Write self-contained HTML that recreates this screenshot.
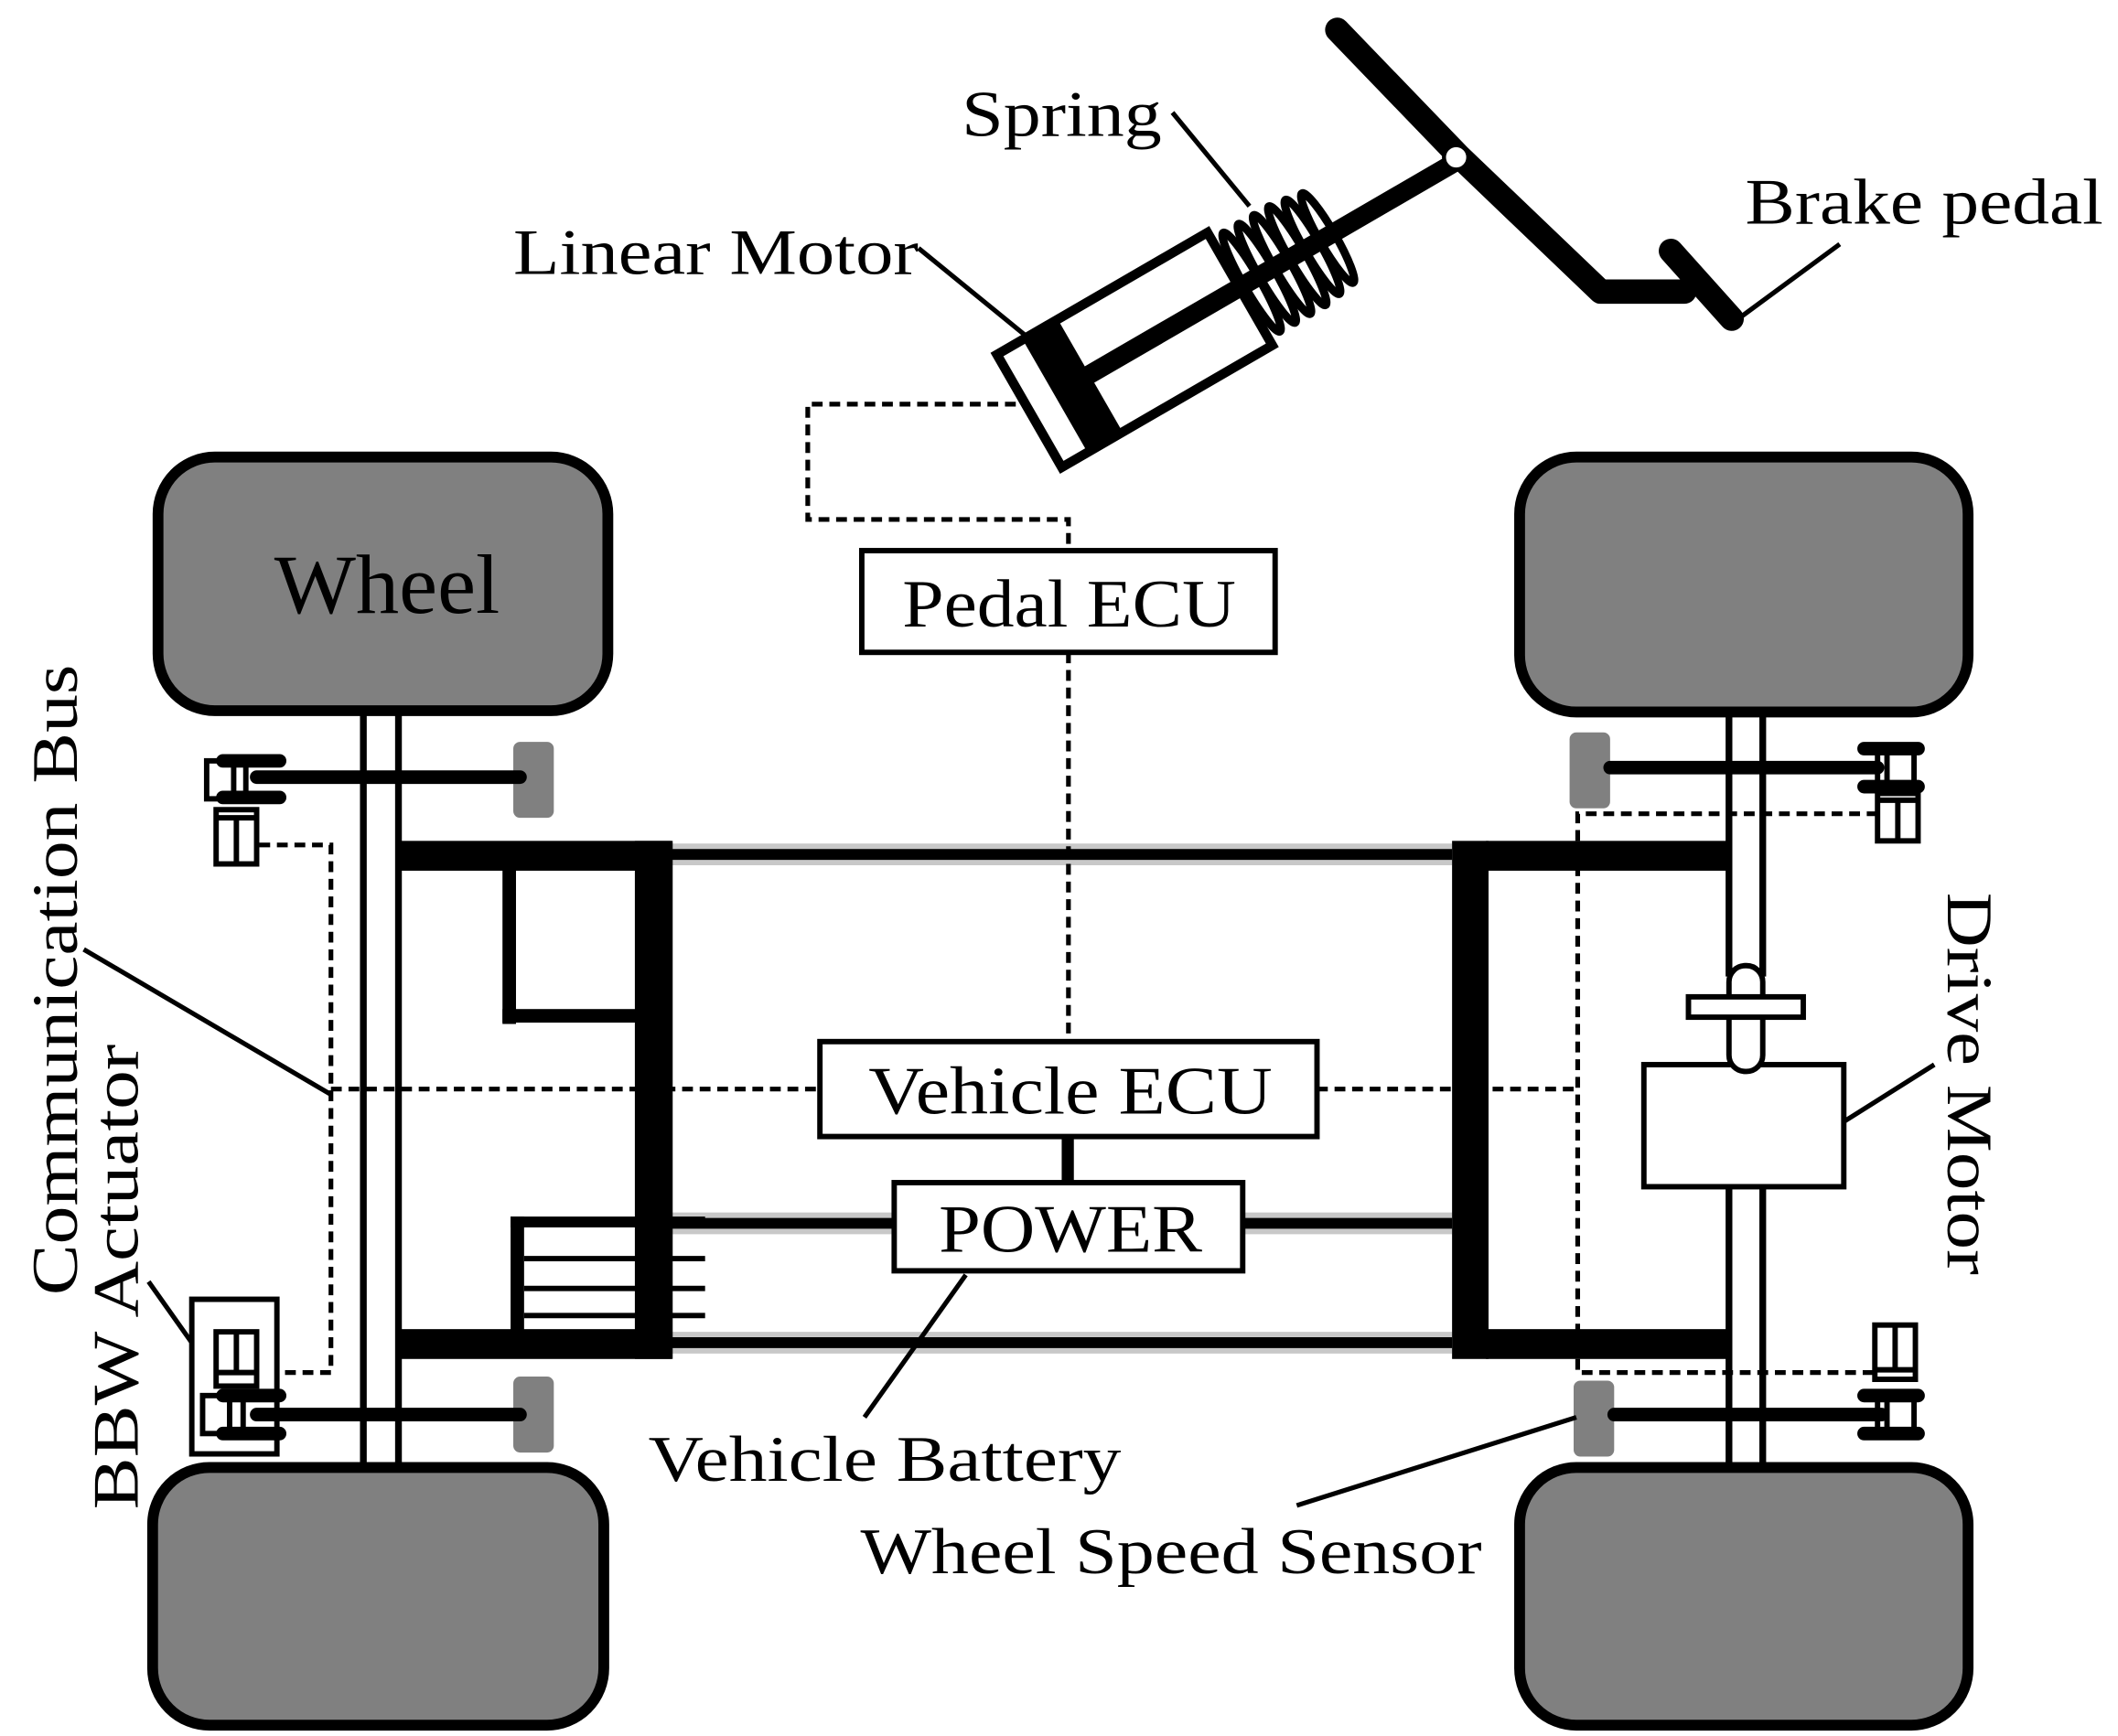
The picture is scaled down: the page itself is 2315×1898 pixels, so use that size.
<!DOCTYPE html>
<html><head><meta charset="utf-8"><style>html,body{margin:0;padding:0;background:#fff}svg{display:block}</style></head><body>
<svg width="2315" height="1898" viewBox="0 0 1568 1280" preserveAspectRatio="none" xmlns="http://www.w3.org/2000/svg" font-family="Liberation Serif, serif">
<!-- wheels -->
<g fill="#808080" stroke="#000" stroke-width="8">
<rect x="117" y="337" width="333" height="187" rx="42"/>
<rect x="1125" y="337" width="332" height="188" rx="42"/>
<rect x="113" y="1082" width="334" height="190" rx="42"/>
<rect x="1125" y="1082" width="332" height="190" rx="42"/>
</g>
<text x="203" y="452" font-size="62" textLength="167" lengthAdjust="spacingAndGlyphs">Wheel</text>
<!-- axles -->
<g stroke="#000" stroke-width="5">
<line x1="269" y1="524" x2="269" y2="1080"/><line x1="295" y1="524" x2="295" y2="1080"/>
<line x1="1280" y1="525" x2="1280" y2="720"/><line x1="1305" y1="525" x2="1305" y2="720"/>
<line x1="1280" y1="875" x2="1280" y2="1080"/><line x1="1305" y1="875" x2="1305" y2="1080"/>
</g>
<!-- long bars -->
<g stroke="#c8c8c8" stroke-width="16"><line x1="497" y1="630" x2="1075" y2="630"/><line x1="497" y1="902" x2="1075" y2="902"/><line x1="497" y1="990" x2="1075" y2="990"/></g>
<g stroke="#000" stroke-width="8"><line x1="497" y1="630" x2="1075" y2="630"/><line x1="497" y1="902" x2="1075" y2="902"/><line x1="497" y1="990" x2="1075" y2="990"/></g>
<!-- chassis -->
<g fill="#000">
<rect x="295" y="620" width="202" height="22"/>
<rect x="295" y="980" width="202" height="22"/>
<rect x="470" y="620" width="28" height="382"/>
<rect x="372" y="640" width="10" height="115"/>
<rect x="372" y="744" width="100" height="10"/>
<rect x="378" y="897" width="10" height="85"/>
<rect x="378" y="897" width="144" height="8"/>
<rect x="1075" y="620" width="27" height="382"/>
<rect x="1100" y="620" width="180" height="22"/>
<rect x="1100" y="980" width="180" height="22"/>
</g>
<g stroke="#000" stroke-width="4"><line x1="388" y1="928" x2="522" y2="928"/><line x1="388" y1="950" x2="522" y2="950"/><line x1="388" y1="970" x2="522" y2="970"/></g>
<!-- dashed -->
<g stroke="#000" stroke-width="3.5" fill="none" stroke-dasharray="8,5">
<polyline points="765,298 598,298 598,383 791,383 791,406"/>
<line x1="791" y1="481" x2="791" y2="768"/>
<line x1="245" y1="803" x2="607" y2="803"/><line x1="975" y1="803" x2="1168" y2="803"/>
<polyline points="192,623 245,623 245,1012 205,1012"/>
<polyline points="1390,600 1168,600 1168,1012 1390,1012"/>
</g>
<!-- boxes -->
<g fill="#fff" stroke="#000" stroke-width="4">
<rect x="638" y="406" width="306" height="75"/>
<rect x="607" y="768" width="368" height="70"/>
<rect x="662" y="872" width="258" height="65"/>
<rect x="1217" y="785" width="148" height="90"/>
<rect x="1280" y="712" width="25" height="78" rx="12"/>
<rect x="1250" y="735" width="85" height="15"/>
<rect x="142" y="958" width="63" height="114"/>
</g>
<rect x="786" y="838" width="9" height="34"/>
<text x="668" y="462" font-size="50" textLength="247" lengthAdjust="spacingAndGlyphs">Pedal ECU</text>
<text x="643" y="821" font-size="50" textLength="299" lengthAdjust="spacingAndGlyphs">Vehicle ECU</text>
<text x="695" y="923" font-size="50" textLength="195" lengthAdjust="spacingAndGlyphs">POWER</text>
<!-- sensors -->
<g fill="#808080"><rect x="380" y="547" width="30" height="56" rx="5"/><rect x="380" y="1015" width="30" height="56" rx="5"/><rect x="1162" y="540" width="30" height="56" rx="5"/><rect x="1165" y="1018" width="30" height="56" rx="5"/></g>
<!-- brake lines -->
<g stroke="#000" stroke-width="10" stroke-linecap="round">
<line x1="190" y1="573" x2="385" y2="573"/><line x1="190" y1="1043" x2="385" y2="1043"/>
<line x1="1192" y1="566" x2="1390" y2="566"/><line x1="1195" y1="1043" x2="1393" y2="1043"/>
<line x1="165" y1="561" x2="207" y2="561"/><line x1="165" y1="588" x2="207" y2="588"/>
<line x1="165" y1="1029" x2="207" y2="1029"/><line x1="165" y1="1057" x2="207" y2="1057"/>
<line x1="1380" y1="552" x2="1420" y2="552"/><line x1="1380" y1="580" x2="1420" y2="580"/>
<line x1="1380" y1="1029" x2="1420" y2="1029"/><line x1="1380" y1="1057" x2="1420" y2="1057"/>
</g>
<g fill="none" stroke="#000" stroke-width="4">
<rect x="153" y="561" width="20" height="28"/><line x1="182" y1="561" x2="182" y2="588"/>
<rect x="160" y="597" width="30" height="40"/><line x1="175" y1="603" x2="175" y2="637"/><line x1="160" y1="603" x2="190" y2="603"/>
<rect x="150" y="1029" width="20" height="28"/><line x1="180" y1="1029" x2="180" y2="1057"/>
<rect x="160" y="982" width="30" height="40"/><line x1="175" y1="982" x2="175" y2="1012"/><line x1="160" y1="1012" x2="190" y2="1012"/>
<rect x="1397" y="552" width="20" height="28"/><line x1="1390" y1="552" x2="1390" y2="580"/>
<rect x="1390" y="585" width="30" height="35"/><line x1="1405" y1="590" x2="1405" y2="620"/><line x1="1390" y1="590" x2="1420" y2="590"/>
<rect x="1397" y="1029" width="20" height="28"/><line x1="1390" y1="1029" x2="1390" y2="1057"/>
<rect x="1388" y="977" width="30" height="40"/><line x1="1403" y1="977" x2="1403" y2="1010"/><line x1="1388" y1="1010" x2="1418" y2="1010"/>
</g>
<!-- pedal mechanism -->
<g stroke="#000" stroke-linecap="round" stroke-linejoin="round" fill="none">
<polyline points="990,22 1080,115 1185,215 1247,215" stroke-width="18"/>
<line x1="1237" y1="185" x2="1282" y2="235" stroke-width="18"/>
<line x1="800" y1="280" x2="1080" y2="118" stroke-width="14"/>
</g>
<g transform="translate(840,258) rotate(-30)">
<rect x="-90" y="-48" width="180" height="96" fill="#fff" stroke="#000" stroke-width="7"/>
<rect x="-68" y="-48" width="30" height="96" fill="#000"/>
<rect x="-40" y="-8" width="130" height="14" fill="#000"/>
<g fill="none" stroke="#000" stroke-width="6">
<ellipse cx="100" cy="0" rx="6" ry="42"/><ellipse cx="113" cy="0" rx="6" ry="42"/><ellipse cx="126" cy="0" rx="6" ry="42"/><ellipse cx="139" cy="0" rx="6" ry="42"/><ellipse cx="152" cy="0" rx="6" ry="40"/><ellipse cx="165" cy="0" rx="6" ry="38"/>
</g>
</g>
<circle cx="1078" cy="116" r="9" fill="#fff" stroke="#000" stroke-width="3"/>
<!-- leaders -->
<g stroke="#000" stroke-width="3.5">
<line x1="868" y1="83" x2="925" y2="152"/>
<line x1="680" y1="183" x2="760" y2="248"/>
<line x1="1362" y1="180" x2="1287" y2="235"/>
<line x1="640" y1="1045" x2="715" y2="940"/>
<line x1="960" y1="1110" x2="1167" y2="1045"/>
<line x1="62" y1="700" x2="245" y2="807"/>
<line x1="110" y1="945" x2="142" y2="990"/>
<line x1="1365" y1="827" x2="1432" y2="785"/>
</g>
<g font-size="48">
<text x="712" y="100" textLength="148" lengthAdjust="spacingAndGlyphs">Spring</text>
<text x="380" y="202" textLength="300" lengthAdjust="spacingAndGlyphs">Linear Motor</text>
<text x="1292" y="165" textLength="265" lengthAdjust="spacingAndGlyphs">Brake pedal</text>
<text x="480" y="1092" textLength="350" lengthAdjust="spacingAndGlyphs">Vehicle Battery</text>
<text x="637" y="1160" textLength="460" lengthAdjust="spacingAndGlyphs">Wheel Speed Sensor</text>
<text transform="translate(57,955) rotate(-90)" textLength="465" lengthAdjust="spacingAndGlyphs">Communication Bus</text>
<text transform="translate(102,1113) rotate(-90)" textLength="343" lengthAdjust="spacingAndGlyphs">BBW Actuator</text>
<text transform="translate(1442,658) rotate(90)" textLength="282" lengthAdjust="spacingAndGlyphs">Drive Motor</text>
</g>
</svg>
</body></html>
